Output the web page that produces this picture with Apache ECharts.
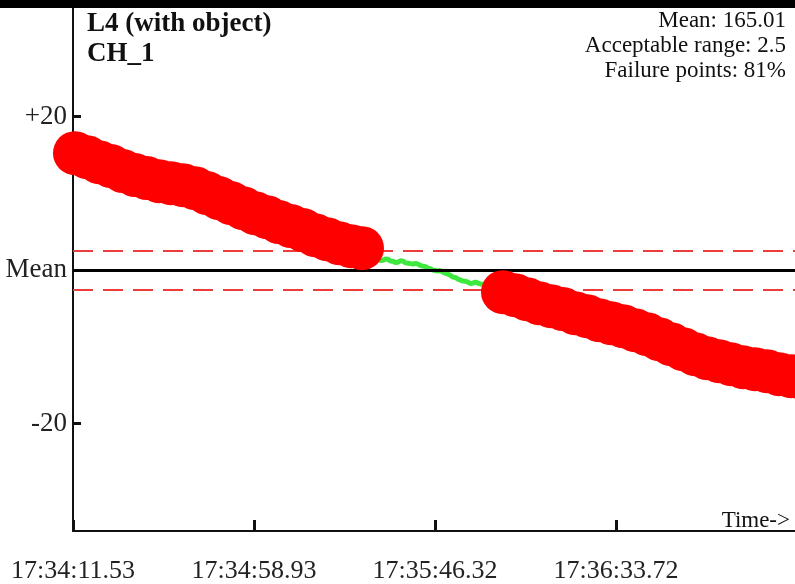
<!DOCTYPE html>
<html>
<head>
<meta charset="utf-8">
<script src="https://cdn.jsdelivr.net/npm/echarts@6/dist/echarts.min.js"></script>
<style>
html,body{margin:0;padding:0;background:#fff;}
#chart{width:795px;height:584px;}
</style>
</head>
<body>
<div id="chart"></div>
<script>
// seconds since 17:34:11.53
const seg1Times = [0.52,3.67,6.81,9.95,13.09,16.24,19.38,22.52,25.66,28.81,31.95,35.09,38.23,41.38,44.52,47.66,50.80,53.95,57.09,60.23,63.37,66.52,69.66,72.80,75.68];
const seg1Values = [15.25,14.73,14.08,13.56,12.91,12.39,12.0,11.60,11.34,11.08,10.69,10.04,9.39,8.74,8.08,7.43,6.91,6.26,5.74,5.22,4.56,4.04,3.52,3.13,2.87];
const okTimes = [77.25,77.9,78.56,79.2,79.87,80.5,81.18,81.8,82.49,83.1,83.80,84.4,85.11,85.8,86.42,87.1,87.73,88.4,89.04,89.7,90.35,91.0,91.66,92.3,92.97,93.6,94.28,94.9,95.59,96.2,96.90,97.5,98.21,98.9,99.51,100.2,100.82,101.5,102.13,102.8,103.44,104.1,104.75,105.4,106.06,106.7,107.37];
const okValues = [2.2,1.9,1.7,1.5,1.43,1.25,1.30,1.45,1.43,1.2,1.17,1.0,1.04,1.25,1.17,0.95,0.91,0.85,0.78,0.9,0.78,0.6,0.52,0.45,0.26,0.2,0.0,-0.05,-0.13,-0.05,-0.26,-0.4,-0.52,-0.7,-0.91,-0.95,-1.17,-1.3,-1.43,-1.45,-1.56,-1.75,-1.69,-1.55,-1.69,-1.8,-1.83];
const seg2Times = [112.61,115.75,118.89,122.04,125.18,128.32,131.46,134.61,137.75,140.89,144.03,147.18,150.32,153.46,156.60,159.75,162.89,166.03,169.17,172.32,175.46,178.60,181.74,184.89,188.03,191.17];
const seg2Values = [-2.87,-3.26,-3.78,-4.30,-4.69,-5.08,-5.61,-6.00,-6.52,-6.91,-7.30,-7.82,-8.34,-9.00,-9.65,-10.30,-10.95,-11.47,-11.86,-12.26,-12.65,-12.91,-13.17,-13.56,-13.82,-14.08];

const xTickSeconds = [0, 47.40, 94.79, 142.19];
const xTickLabels = ['17:34:11.53', '17:34:58.93', '17:35:46.32', '17:36:33.72'];
const yTickValues = [20, 0, -20];
const yTickLabels = ['+20', 'Mean', '-20'];
const acceptableRange = 2.5;
const titleLines = ['L4 (with object)', 'CH_1'];
const infoLines = ['Mean: 165.01', 'Acceptable range: 2.5', 'Failure points: 81%'];

const zip = (t, v) => t.map((x, i) => [x, v[i]]);
const seg1 = zip(seg1Times, seg1Values);
const seg2 = zip(seg2Times, seg2Values);
const okData = [seg1[seg1.length - 1]].concat(zip(okTimes, okValues), [seg2[0]]);

const FONT = "'Liberation Serif', 'Times New Roman', serif";
const chart = echarts.init(document.getElementById('chart'), null, {renderer: 'canvas'});

const redSeries = (data) => ({
  type: 'line', data: data, clip: false, z: 5,
  symbol: 'circle', symbolSize: 44, showSymbol: true, showAllSymbol: true,
  itemStyle: {color: '#ff0000', borderWidth: 0},
  lineStyle: {color: '#ff0000', width: 41, cap: 'round', join: 'round'},
  emphasis: {disabled: true}, animation: false
});

chart.setOption({
  animation: false,
  backgroundColor: '#ffffff',
  grid: {left: 73, right: 0, top: 7, bottom: 53, containLabel: false},
  xAxis: {
    type: 'value', min: 0, max: 189.08,
    splitLine: {show: false},
    axisLine: {show: true, onZero: false, lineStyle: {color: '#111', width: 2}},
    axisTick: {show: true, inside: true, length: 11, customValues: xTickSeconds, lineStyle: {color: '#111', width: 3}},
    axisLabel: {
      customValues: xTickSeconds, margin: 27, fontFamily: FONT, fontSize: 26, color: '#222',
      formatter: (v) => { const i = xTickSeconds.findIndex(s => Math.abs(s - v) < 0.01); return i >= 0 ? xTickLabels[i] : ''; }
    }
  },
  yAxis: {
    type: 'value', min: -34, max: 34.3,
    splitLine: {show: false},
    axisLine: {show: true, onZero: false, lineStyle: {color: '#111', width: 2}},
    axisTick: {show: true, inside: true, length: 8, customValues: yTickValues, lineStyle: {color: '#111', width: 3}},
    axisLabel: {
      customValues: yTickValues, margin: 6, fontFamily: FONT, fontSize: 27, color: '#222',
      formatter: (v) => { const i = yTickValues.indexOf(Math.round(v)); return i >= 0 ? yTickLabels[i] : ''; }
    }
  },
  series: [
    {
      type: 'line', data: [], z: 1, silent: true,
      markLine: {
        symbol: 'none', silent: true, animation: false, label: {show: false},
        data: [
          {yAxis: 0, lineStyle: {color: '#000', width: 3, type: 'solid'}},
          {yAxis: acceptableRange, lineStyle: {color: '#ee3b3b', width: 2, type: [20, 10]}},
          {yAxis: -acceptableRange, lineStyle: {color: '#ee3b3b', width: 2, type: [20, 10]}}
        ]
      }
    },
    {
      type: 'line', data: okData, z: 3, symbol: 'none', silent: true,
      lineStyle: {color: '#3ee83e', width: 5}
    },
    redSeries(seg1),
    redSeries(seg2)
  ],
  graphic: [
    {type: 'rect', shape: {x: 0, y: 0, width: 795, height: 8}, style: {fill: '#000'}, z: 100},
    {type: 'text', left: 87, top: 9, style: {text: titleLines.join('\n'), font: "bold 27px " + FONT, fill: '#111', lineHeight: 30}, z: 100},
    {type: 'text', x: 786, y: 8, style: {text: infoLines.join('\n'), font: "23px " + FONT, fill: '#111', lineHeight: 25, align: 'right', verticalAlign: 'top'}, z: 100},
    {type: 'text', x: 790, y: 521, style: {text: 'Time->', font: "23px " + FONT, fill: '#111', align: 'right', verticalAlign: 'middle'}, z: 100}
  ]
});
</script>
</body>
</html>
